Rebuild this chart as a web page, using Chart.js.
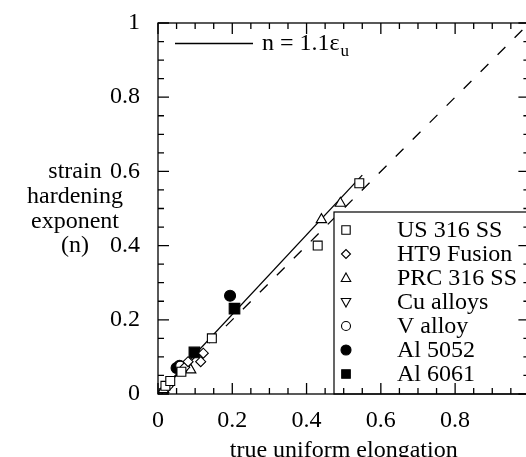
<!DOCTYPE html>
<html>
<head>
<meta charset="utf-8">
<script src="https://cdn.jsdelivr.net/npm/chart.js@4.4.1/dist/chart.umd.min.js"></script>
<style>
  html, body { margin: 0; padding: 0; background: #fff; overflow: hidden; }
  #c { display: block; }
</style>
</head>
<body>
<canvas id="c" width="538" height="457"></canvas>
<script>
// ─── data ─────────────────────────────────────────────────────────────────
const X_TICK_LABELS = ['0', '0.2', '0.4', '0.6', '0.8', ''];
const Y_TICK_LABELS = ['0', '0.2', '0.4', '0.6', '0.8', '1'];
const Y_TITLE_LINES = ['strain', 'hardening', 'exponent', '(n)'];
const X_TITLE = 'true uniform elongation';

const us316   = [[0.020, 0.022], [0.033, 0.035], [0.063, 0.060], [0.145, 0.150], [0.430, 0.400], [0.542, 0.568]];
const ht9     = [[0.027, 0.020], [0.072, 0.072], [0.081, 0.087], [0.115, 0.087], [0.122, 0.110]];
const prc316  = [[0.015, 0.012], [0.088, 0.065], [0.440, 0.470], [0.491, 0.514]];
const cuAlloy = [[0.012, 0.000], [0.018, 0.006]];
const vAlloy  = [[0.060, 0.076]];
const al5052  = [[0.050, 0.070], [0.058, 0.076], [0.194, 0.265]];
const al6061  = [[0.098, 0.112], [0.206, 0.230]];

const fitLine  = [[0, 0], [0.55, 0.59]];   // n = 1.1 eps_u
const unitLine = [[0, 0], [1, 1]];         // dashed n = eps_u

const SERIES = [
  { label: 'US 316 SS',  data: us316,   style: 'rect',     rot: 0,   filled: false, r: 6.3, lr: 4.2 },
  { label: 'HT9 Fusion', data: ht9,     style: 'rectRot',  rot: 0,   filled: false, r: 5,   lr: 4.5 },
  { label: 'PRC 316 SS', data: prc316,  style: 'triangle', rot: 0,   filled: false, r: 6,   lr: 5 },
  { label: 'Cu alloys',  data: cuAlloy, style: 'triangle', rot: 180, filled: false, r: 6,   lr: 5 },
  { label: 'V alloy',    data: vAlloy,  style: 'circle',   rot: 0,   filled: false, r: 4.5, lr: 4.5 },
  { label: 'Al 5052',    data: al5052,  style: 'circle',   rot: 0,   filled: true,  r: 5.5, lr: 5 },
  { label: 'Al 6061',    data: al6061,  style: 'rect',     rot: 0,   filled: true,  r: 7.5, lr: 4.3 },
];

const FONT = '"Liberation Serif", "Times New Roman", serif';
const pts = arr => arr.map(([x, y]) => ({ x, y }));

// ─── legend marker (own drawing, legend only) ─────────────────────────────
function marker(ctx, s, cx, cy) {
  const r = s.lr;
  ctx.beginPath();
  if (s.style === 'rect') {
    ctx.rect(cx - r, cy - r, 2 * r, 2 * r);
  } else if (s.style === 'rectRot') {
    ctx.moveTo(cx - r, cy); ctx.lineTo(cx, cy - r); ctx.lineTo(cx + r, cy); ctx.lineTo(cx, cy + r); ctx.closePath();
  } else if (s.style === 'triangle') {
    const d = s.rot ? -1 : 1;
    ctx.moveTo(cx, cy - d * r); ctx.lineTo(cx + r * 0.95, cy + d * r * 0.7); ctx.lineTo(cx - r * 0.95, cy + d * r * 0.7); ctx.closePath();
  } else {
    ctx.arc(cx, cy, r, 0, Math.PI * 2);
  }
  ctx.fillStyle = s.filled ? '#000' : '#fff';
  ctx.fill();
  ctx.stroke();
}

// ─── frame, inward ticks, legends, y title ────────────────────────────────
const decor = {
  id: 'decor',
  afterDatasetsDraw(chart) {
    const { ctx, chartArea: a, scales: { x, y } } = chart;
    ctx.save();
    ctx.strokeStyle = '#000';
    ctx.lineWidth = 1.2;

    // legend box, lower right
    const bx = 334, by = 212;
    ctx.fillStyle = '#fff';
    ctx.fillRect(bx, by, a.right - bx, a.bottom - by);
    ctx.strokeRect(bx, by, a.right - bx, a.bottom - by);
    ctx.font = '24px ' + FONT;
    ctx.textBaseline = 'middle';
    ctx.textAlign = 'left';
    SERIES.forEach((s, i) => {
      const cy = 230 + i * 24;
      ctx.lineWidth = 1.1;
      marker(ctx, s, 346, cy);
      ctx.fillStyle = '#000';
      ctx.fillText(s.label, 397, cy + 1);
    });

    // frame + ticks every 0.05, major every 0.2
    ctx.lineWidth = 1.3;
    ctx.strokeRect(a.left, a.top, a.right - a.left, a.bottom - a.top);
    ctx.beginPath();
    for (let i = 0; i <= 20; i++) {
      const v = i / 20;
      const len = i % 4 === 0 ? 11 : 6;
      const px = x.getPixelForValue(v), py = y.getPixelForValue(v);
      ctx.moveTo(px, a.bottom); ctx.lineTo(px, a.bottom - len);
      ctx.moveTo(px, a.top);    ctx.lineTo(px, a.top + len);
      ctx.moveTo(a.left, py);   ctx.lineTo(a.left + len, py);
      ctx.moveTo(a.right, py);  ctx.lineTo(a.right - len, py);
    }
    ctx.stroke();

    // top-left line key
    ctx.beginPath();
    ctx.moveTo(175, 43.5); ctx.lineTo(253, 43.5);
    ctx.stroke();
    ctx.fillStyle = '#000';
    ctx.textBaseline = 'alphabetic';
    ctx.font = '24px ' + FONT;
    ctx.fillText('n = 1.1\u03b5', 262, 50);
    const w = ctx.measureText('n = 1.1\u03b5').width;
    ctx.font = '17px ' + FONT;
    ctx.fillText('u', 262 + w + 1, 56);

    // y title, horizontal lines
    ctx.font = '24px ' + FONT;
    ctx.textAlign = 'center';
    ctx.textBaseline = 'middle';
    Y_TITLE_LINES.forEach((t, i) => ctx.fillText(t, 75, 172 + i * 24.7));
    ctx.restore();
  }
};

const datasets = SERIES.map(s => ({
  type: 'scatter',
  label: s.label,
  data: pts(s.data),
  pointStyle: s.style,
  rotation: s.rot,
  pointRadius: s.r,
  pointHoverRadius: s.r,
  borderWidth: 1.1,
  borderColor: '#000',
  backgroundColor: s.filled ? '#000' : '#fff',
}));
datasets.push({
  type: 'line', label: 'fit', data: pts(fitLine),
  borderColor: '#000', borderWidth: 1.3, pointRadius: 0, fill: false, tension: 0,
});
datasets.push({
  type: 'line', label: 'unit', data: pts(unitLine),
  borderColor: '#000', borderWidth: 1.3, borderDash: [11, 13], pointRadius: 0, fill: false, tension: 0,
});

new Chart(document.getElementById('c'), {
  data: { datasets },
  options: {
    responsive: false,
    animation: false,
    events: [],
    layout: { padding: { top: 23, right: 4, left: 0, bottom: 0 } },
    plugins: { legend: { display: false }, tooltip: { enabled: false } },
    scales: {
      x: {
        type: 'linear', min: 0, max: 1,
        grid: { display: false },
        border: { display: false },
        afterFit: s => { s.height = 63; s.paddingLeft = 0; s.paddingRight = 0; },
        ticks: {
          stepSize: 0.2, color: '#000', padding: 4, maxRotation: 0,
          font: { family: FONT, size: 24 },
          callback: (v, i) => X_TICK_LABELS[i],
        },
        title: {
          display: true, text: X_TITLE, color: '#000',
          font: { family: FONT, size: 24 }, padding: { top: 0, bottom: -8 },
        },
      },
      y: {
        type: 'linear', min: 0, max: 1,
        grid: { display: false },
        border: { display: false },
        afterFit: s => { s.width = 158; s.paddingTop = 0; s.paddingBottom = 0; },
        ticks: {
          stepSize: 0.2, color: '#000', padding: 10,
          font: { family: FONT, size: 24 },
          callback: (v, i) => Y_TICK_LABELS[i],
        },
      },
    },
  },
  plugins: [decor],
});
</script>
</body>
</html>
